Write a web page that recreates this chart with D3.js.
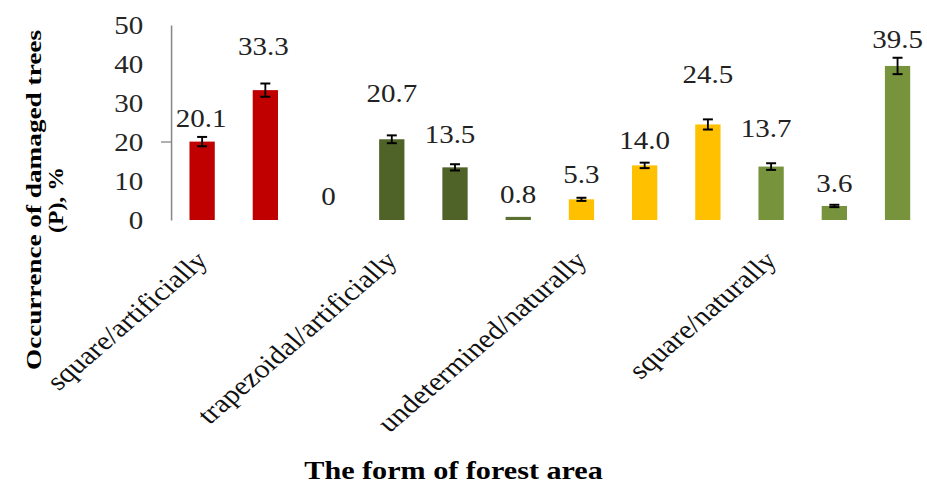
<!DOCTYPE html>
<html>
<head>
<meta charset="utf-8">
<script src="https://cdn.jsdelivr.net/npm/d3@7"></script>
<style>
  body { margin: 0; background: #fff; }
  svg { display: block; }
  svg text { font-family: "Liberation Serif", "Times New Roman", Times, serif; }
</style>
</head>
<body>
<div id="chart"></div>
<script>
// data
var groups = ["square/artificially", "trapezoidal/artificially", "undetermined/naturally", "square/naturally"];
var values = [20.1, 33.3, 0, 20.7, 13.5, 0.8, 5.3, 14.0, 24.5, 13.7, 3.6, 39.5];
var errors = [1.2, 1.7, 0, 1.0, 0.8, 0, 0.4, 0.7, 1.3, 0.85, 0.3, 2.1];
var yTicks = [0, 10, 20, 30, 40, 50];
var markedTicks = [20];

// styling
var barColors = ["#C00000", "#C00000", "#C00000",
                 "#4F6228", "#4F6228", "#5A7030",
                 "#FFC000", "#FFC000", "#FFC000",
                 "#77933C", "#77933C", "#77933C"];
// label nudges [dx, lift above bar top] in px, to follow the original placement
var labelNudge = [[-1, 15], [-2, 35], [0, 15], [0, 37], [-5, 24], [0, 14],
                  [0, 16], [0, 16], [0, 41], [-5, 30], [0, 14], [0, 18]];

var W = 927, H = 484;
var SX = 1.16; // the original is stretched sideways

var svg = d3.select("#chart").append("svg")
    .attr("width", W)
    .attr("height", H);

var g = svg.append("g")
    .attr("transform", "scale(" + SX + ",1)");

var x = d3.scaleBand()
    .domain(d3.range(values.length))
    .range([147, 801])
    .paddingInner(0.6)
    .paddingOuter(0.3);

var y = d3.scaleLinear()
    .domain([0, 50])
    .range([220, 25]);

// y axis
var yAxis = g.append("g")
    .attr("transform", "translate(147.4,0)")
    .call(d3.axisLeft(y).tickValues(yTicks).tickSize(0).tickPadding(24));

yAxis.attr("font-family", null);
yAxis.select(".domain").attr("stroke", "#868686").attr("stroke-width", 1.3);
yAxis.selectAll("text")
    .attr("font-size", 25)
    .attr("fill", "#262626");

yAxis.selectAll(".mark")
    .data(markedTicks)
    .enter()
    .append("line")
    .attr("x1", -8.6)
    .attr("x2", 0)
    .attr("y1", function(d) { return y(d); })
    .attr("y2", function(d) { return y(d); })
    .attr("stroke", "#868686")
    .attr("stroke-width", 1.3);

// bars
g.selectAll(".bar")
    .data(values)
    .enter()
    .append("rect")
    .attr("x", function(d, i) { return x(i); })
    .attr("y", function(d) { return y(d); })
    .attr("width", x.bandwidth())
    .attr("height", function(d) { return y(0) - y(d); })
    .attr("fill", function(d, i) { return barColors[i]; });

// error bars
var eb = g.selectAll(".err")
    .data(values.map(function(v, i) { return { v: v, e: errors[i], i: i }; }).filter(function(d) { return d.e > 0; }))
    .enter()
    .append("g")
    .attr("stroke", "#000")
    .attr("stroke-width", 2);

eb.append("line")
    .attr("x1", function(d) { return x(d.i) + x.bandwidth() / 2; })
    .attr("x2", function(d) { return x(d.i) + x.bandwidth() / 2; })
    .attr("y1", function(d) { return y(d.v + d.e); })
    .attr("y2", function(d) { return y(d.v - d.e); })
    .attr("stroke-width", 1.6);

[1, -1].forEach(function(s) {
    eb.append("line")
        .attr("x1", function(d) { return x(d.i) + x.bandwidth() / 2 - 4.3; })
        .attr("x2", function(d) { return x(d.i) + x.bandwidth() / 2 + 4.3; })
        .attr("y1", function(d) { return y(d.v + s * d.e); })
        .attr("y2", function(d) { return y(d.v + s * d.e); });
});

// value labels
g.selectAll(".val")
    .data(values)
    .enter()
    .append("text")
    .attr("x", function(d, i) { return x(i) + x.bandwidth() / 2 + labelNudge[i][0] / SX; })
    .attr("y", function(d, i) { return y(d) - labelNudge[i][1]; })
    .attr("text-anchor", "middle")
    .attr("font-size", 25)
    .attr("fill", "#222")
    .text(function(d) { return d === 0 ? "0" : d.toFixed(1); });

// category labels, one every third bar
g.selectAll(".cat")
    .data(groups)
    .enter()
    .append("text")
    .attr("transform", function(d, i) {
        return "translate(" + (x(i * 3) + x.bandwidth() / 2 + 6) + ",262) rotate(-45)";
    })
    .attr("text-anchor", "end")
    .attr("font-size", 26)
    .attr("fill", "#111")
    .text(function(d) { return d; });

// x title
g.append("text")
    .attr("x", 391)
    .attr("y", 479)
    .attr("text-anchor", "middle")
    .attr("font-weight", "bold")
    .attr("font-size", 26)
    .attr("fill", "#000")
    .text("The form of forest area");

// y title (two lines)
var yTitle = [["Occurrence of damaged trees", 41, 340], ["(P), %", 63, 66]];
svg.selectAll(".ytitle")
    .data(yTitle)
    .enter()
    .append("text")
    .attr("transform", function(d) { return "translate(" + d[1] + ",200) rotate(-90)"; })
    .attr("text-anchor", "middle")
    .attr("font-weight", "bold")
    .attr("font-size", 21)
    .attr("textLength", function(d) { return d[2]; })
    .attr("lengthAdjust", "spacingAndGlyphs")
    .attr("fill", "#000")
    .text(function(d) { return d[0]; });
</script>
</body>
</html>
